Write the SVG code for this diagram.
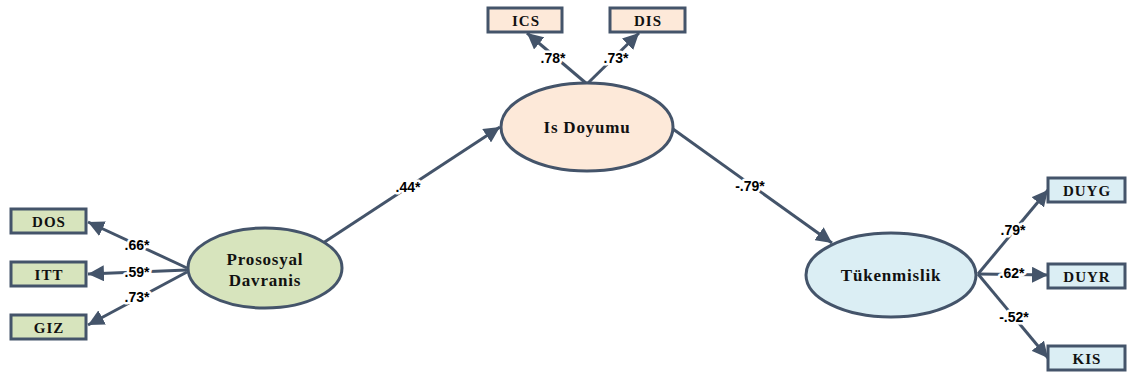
<svg xmlns="http://www.w3.org/2000/svg" width="1127" height="377" viewBox="0 0 1127 377">
<style>
.box{stroke:#44546a;stroke-width:3}
.ell{stroke:#44546a;stroke-width:3}
.g{fill:#d7e4bd}.p{fill:#fde9d9}.b{fill:#dbeef4}
.bt{font-family:"Liberation Serif",serif;font-weight:bold;font-size:15px;letter-spacing:1px;fill:#111;text-anchor:middle}
.et{font-family:"Liberation Serif",serif;font-weight:bold;font-size:17px;letter-spacing:0.8px;fill:#111;text-anchor:middle}
.lbl{font-family:"Liberation Sans",sans-serif;font-weight:bold;font-size:14px;fill:#000;text-anchor:middle;stroke:#fff;stroke-width:5;paint-order:stroke;stroke-linejoin:round}
.c{stroke:#44546a;stroke-width:3;fill:none;marker-end:url(#ah)}
</style>
<defs>
<marker id="ah" markerUnits="userSpaceOnUse" markerWidth="18" markerHeight="16" refX="16" refY="8" orient="auto">
<path d="M0,0 L16,8 L0,16 Z" fill="#44546a"/>
</marker>
</defs>
<g id="connectors">
<line class="c" x1="187" y1="268" x2="88" y2="222"/>
<line class="c" x1="187" y1="270" x2="88" y2="274"/>
<line class="c" x1="187" y1="272" x2="88" y2="325"/>
<line class="c" x1="587" y1="84" x2="527" y2="33"/>
<line class="c" x1="587" y1="84" x2="639" y2="33"/>
<line class="c" x1="320" y1="245" x2="500" y2="127"/>
<line class="c" x1="673" y1="129" x2="832" y2="243"/>
<line class="c" x1="978" y1="274" x2="1048" y2="190"/>
<line class="c" x1="978" y1="274" x2="1048" y2="275"/>
<line class="c" x1="978" y1="274" x2="1048" y2="358"/>
<text class="lbl" x="137" y="250">.66*</text>
<text class="lbl" x="137" y="277">.59*</text>
<text class="lbl" x="137" y="302">.73*</text>
<text class="lbl" x="553" y="63">.78*</text>
<text class="lbl" x="616" y="63">.73*</text>
<text class="lbl" x="408" y="192">.44*</text>
<text class="lbl" x="750" y="191">-.79*</text>
<text class="lbl" x="1013" y="235">.79*</text>
<text class="lbl" x="1012" y="278">.62*</text>
<text class="lbl" x="1014" y="322">-.52*</text>
</g>
<g id="DOS"><rect class="box g" x="11" y="209" width="75" height="24"/><text class="bt" x="49" y="226.5">DOS</text></g>
<g id="ITT"><rect class="box g" x="11" y="262" width="75" height="24"/><text class="bt" x="49" y="279.5">ITT</text></g>
<g id="GIZ"><rect class="box g" x="11" y="315" width="75" height="24"/><text class="bt" x="49" y="332.5">GIZ</text></g>
<g id="ICS"><rect class="box p" x="488" y="8" width="74" height="24"/><text class="bt" x="526" y="25.5">ICS</text></g>
<g id="DIS"><rect class="box p" x="610" y="8" width="75" height="24"/><text class="bt" x="648" y="25.5">DIS</text></g>
<g id="DUYG"><rect class="box b" x="1048" y="178" width="77" height="24"/><text class="bt" x="1087" y="195.5">DUYG</text></g>
<g id="DUYR"><rect class="box b" x="1048" y="264" width="77" height="24"/><text class="bt" x="1087" y="281.5">DUYR</text></g>
<g id="KIS"><rect class="box b" x="1048" y="346" width="77" height="24"/><text class="bt" x="1087" y="363.5">KIS</text></g>
<g id="Prososyal"><ellipse class="ell g" cx="265" cy="268" rx="77" ry="40"/><text class="et" x="265" y="265">Prososyal</text><text class="et" x="265" y="286">Davranis</text></g>
<g id="IsDoyumu"><ellipse class="ell p" cx="587" cy="127" rx="86" ry="44"/><text class="et" x="587" y="133">Is Doyumu</text></g>
<g id="Tukenmislik"><ellipse class="ell b" cx="891" cy="275" rx="85" ry="42"/><text class="et" x="891" y="281">Tükenmislik</text></g>
</svg>
